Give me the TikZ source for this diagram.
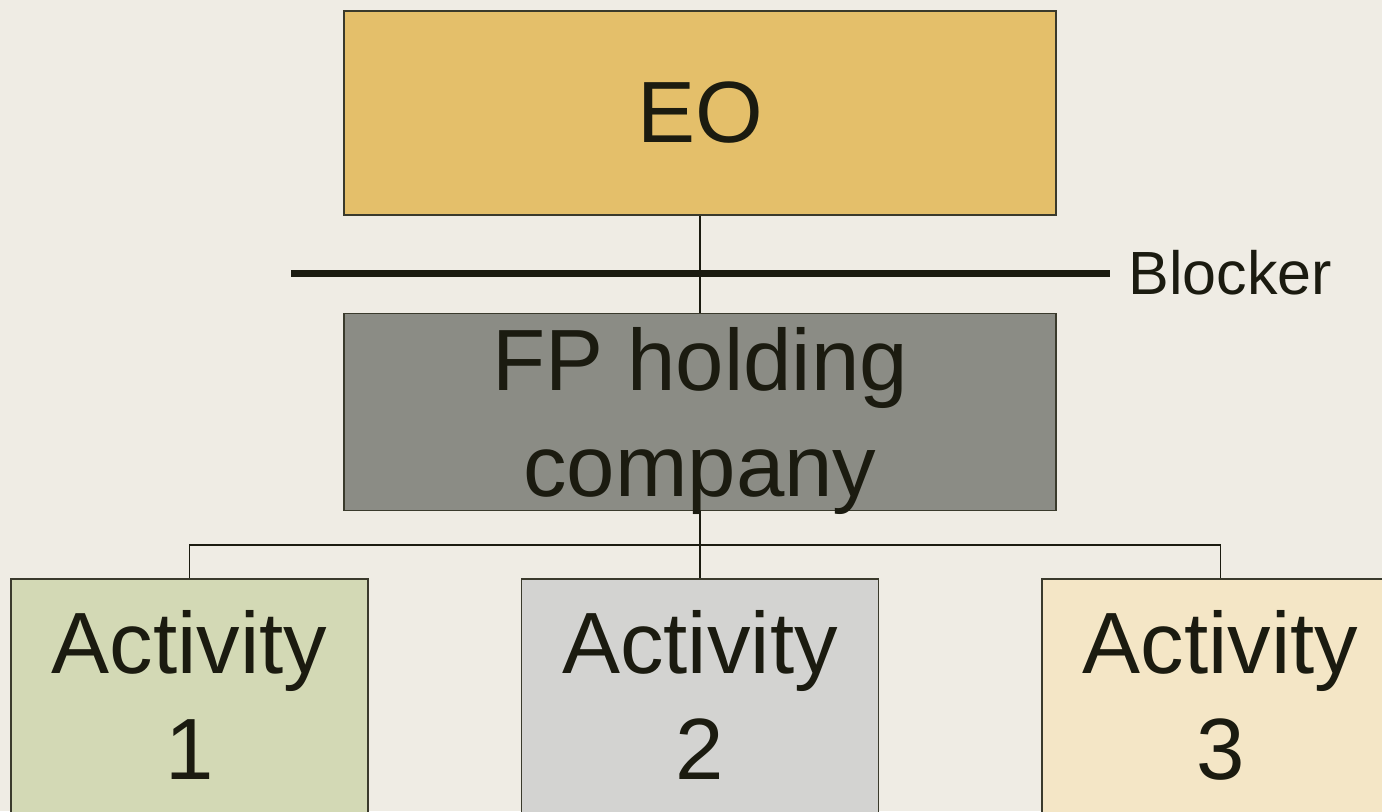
\documentclass[tikz,border=0pt]{standalone}
\usepackage{fontspec}
\setmainfont{Liberation Sans}
\usepackage{xcolor}
\usetikzlibrary{positioning}
\definecolor{ink}{HTML}{1B1B10}
\definecolor{edge}{HTML}{3A3A2C}
\definecolor{paper}{HTML}{EFECE4}
\definecolor{gold}{HTML}{E4BF6A}
\definecolor{slate}{HTML}{8B8C85}
\definecolor{sage}{HTML}{D3D9B5}
\definecolor{stone}{HTML}{D3D3D1}
\definecolor{cream}{HTML}{F4E6C6}

\begin{document}
\begin{tikzpicture}[
  x=0.5pt,y=-0.5pt,
  box/.style={draw=edge,line width=0.75pt,align=center,inner sep=0pt,minimum width=356pt,text=ink,font=\fontsize{43.5}{53}\selectfont},
  actbox/.style={box,minimum width=178.5pt,minimum height=122pt,text depth=6pt},
  link/.style={draw=ink,line width=0.75pt},
  bar/.style={draw=ink,line width=3.5pt}
]
\fill[paper] (0,0) rectangle (1382,811);
\useasboundingbox (0,0) rectangle (1382,811);
\node[box,fill=gold,minimum height=102pt] (eo) at (700,113) {EO};
\node[box,fill=slate,minimum height=98.5pt,text depth=0pt,below=48.5pt of eo] (fp) {FP holding\\company};
\node[actbox,fill=stone,below=33.5pt of fp] (act2) {Activity\\2};
\node[actbox,fill=sage,left=76pt of act2] (act1) {Activity\\1};
\node[actbox,fill=cream,right=81pt of act2] (act3) {Activity\\3};
\coordinate (barL) at (291,273);
\node[anchor=west,inner xsep=9pt,inner ysep=0pt,text=ink,font=\fontsize{30.5}{36}\selectfont] (blocker) at (1110,273) {Blocker};
\coordinate (hub) at (700,545);
\draw[link] (eo) -- (fp);
\draw[bar] (barL) -- (blocker.west);
\draw[link] (fp) -- (act2);
\draw[link] (act1.north) |- (hub) -| (act3.north);
\end{tikzpicture}
\end{document}
